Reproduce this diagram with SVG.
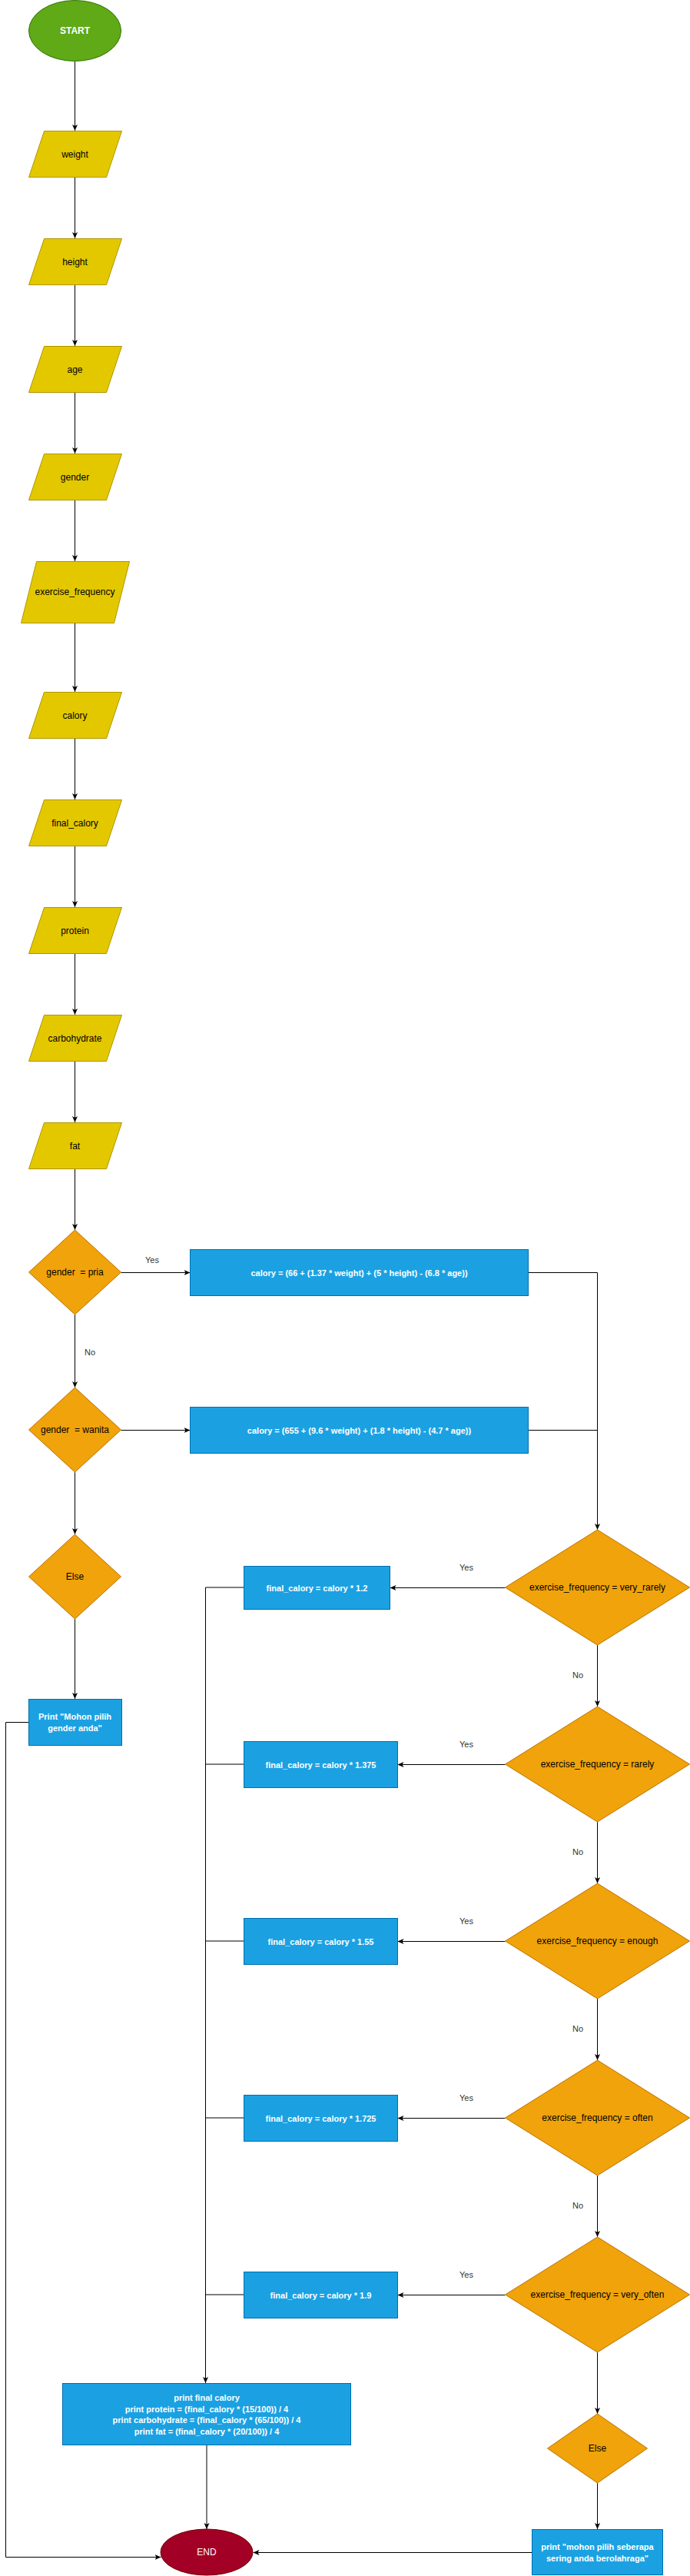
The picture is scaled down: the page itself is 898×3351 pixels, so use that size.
<svg xmlns="http://www.w3.org/2000/svg" width="898" height="3351" viewBox="0 0 898 3351">
<defs>
<marker id="arr" markerUnits="userSpaceOnUse" markerWidth="8" markerHeight="8" viewBox="0 0 8 8" refX="8" refY="4" orient="auto">
<path d="M0,0.5 L8,4 L0,7.5 L2,4 Z" fill="#000"/>
</marker>
<style>
.io{fill:#e3c800;stroke:#b09500}
.dec{fill:#f0a30a;stroke:#bd7000}
.proc{fill:#1ba1e2;stroke:#006eaf}
.t{font-family:"Liberation Sans",Arial,sans-serif;font-size:12px;text-anchor:middle;dominant-baseline:central;fill:#000}
.wb{fill:#fff;font-weight:bold;font-size:11px}
.lbl{fill:#333;font-size:11px}
.edge{fill:none;stroke:#000;stroke-width:1}
.a{marker-end:url(#arr)}
.pre{white-space:pre}
</style>
</defs>
<rect width="898" height="3351" fill="#fff"/>

<g id="connectors">
<path class="edge a" d="M97.5,80 V170"/>
<path class="edge a" d="M97.5,230 V310"/>
<path class="edge a" d="M97.5,370 V450"/>
<path class="edge a" d="M97.5,510 V590"/>
<path class="edge a" d="M97.5,650 V730"/>
<path class="edge a" d="M97.5,810 V900"/>
<path class="edge a" d="M97.5,960 V1040"/>
<path class="edge a" d="M97.5,1100 V1180"/>
<path class="edge a" d="M97.5,1240 V1320"/>
<path class="edge a" d="M97.5,1380 V1460"/>
<path class="edge a" d="M97.5,1520 V1600"/>
<path class="edge a" d="M157.5,1655.5 H247.5"/>
<path class="edge a" d="M97.5,1710 V1805"/>
<path class="edge a" d="M157.5,1860.5 H247.5"/>
<path class="edge a" d="M97.5,1915 V1996"/>
<path class="edge a" d="M97.5,2106 V2210"/>
<path class="edge a" d="M687.5,1655.5 H777.5 V1990"/>
<path class="edge" d="M687.5,1860.5 H777.5"/>
<path class="edge a" d="M657.5,2065.5 H507.5"/>
<path class="edge a" d="M657.5,2295.5 H517.5"/>
<path class="edge a" d="M657.5,2525.5 H517.5"/>
<path class="edge a" d="M657.5,2755.5 H517.5"/>
<path class="edge a" d="M657.5,2985.5 H517.5"/>
<path class="edge a" d="M777.5,2140 V2220"/>
<path class="edge a" d="M777.5,2370 V2450"/>
<path class="edge a" d="M777.5,2600 V2680"/>
<path class="edge a" d="M777.5,2830 V2910"/>
<path class="edge a" d="M777.5,3060 V3140"/>
<path class="edge a" d="M777.5,3230 V3290"/>
<path class="edge" d="M317.5,2065 H267.5"/>
<path class="edge" d="M317.5,2295 H267.5"/>
<path class="edge" d="M317.5,2525 H267.5"/>
<path class="edge" d="M317.5,2755 H267.5"/>
<path class="edge" d="M317.5,2985 H267.5"/>
<path class="edge a" d="M267.5,2065 V3100"/>
<path class="edge a" d="M269,3180 V3290"/>
<path class="edge a" d="M692.5,3320.5 H329.5"/>
<path class="edge a" d="M37.5,2240.5 H7.5 V3326.5 H209.5"/>
<text class="t lbl" x="198" y="1639">Yes</text>
<text class="t lbl" x="117" y="1759">No</text>
<text class="t lbl" x="607" y="2039">Yes</text>
<text class="t lbl" x="607" y="2269">Yes</text>
<text class="t lbl" x="607" y="2499">Yes</text>
<text class="t lbl" x="607" y="2729">Yes</text>
<text class="t lbl" x="607" y="2959">Yes</text>
<text class="t lbl" x="752" y="2179">No</text>
<text class="t lbl" x="752" y="2409">No</text>
<text class="t lbl" x="752" y="2639">No</text>
<text class="t lbl" x="752" y="2869">No</text>
</g>

<g id="start">
<ellipse cx="97.5" cy="40" rx="60" ry="39.5" fill="#60a917" stroke="#2d7600"/>
<text class="t" x="97.5" y="40" fill="#fff" style="fill:#fff;font-weight:bold">START</text>
</g>
<g id="in-weight"><polygon class="io" points="57.5,170.5 158.5,170.5 138.5,230.5 37.5,230.5"/><text class="t" x="97.5" y="200.5">weight</text></g>
<g id="in-height"><polygon class="io" points="57.5,310.5 158.5,310.5 138.5,370.5 37.5,370.5"/><text class="t" x="97.5" y="340.5">height</text></g>
<g id="in-age"><polygon class="io" points="57.5,450.5 158.5,450.5 138.5,510.5 37.5,510.5"/><text class="t" x="97.5" y="480.5">age</text></g>
<g id="in-gender"><polygon class="io" points="57.5,590.5 158.5,590.5 138.5,650.5 37.5,650.5"/><text class="t" x="97.5" y="620.5">gender</text></g>
<g id="in-exercise"><polygon class="io" points="47.5,730.5 168.5,730.5 148.5,810.5 27.5,810.5"/><text class="t" x="97.5" y="770">exercise_frequency</text></g>
<g id="in-calory"><polygon class="io" points="57.5,900.5 158.5,900.5 138.5,960.5 37.5,960.5"/><text class="t" x="97.5" y="930.5">calory</text></g>
<g id="in-final"><polygon class="io" points="57.5,1040.5 158.5,1040.5 138.5,1100.5 37.5,1100.5"/><text class="t" x="97.5" y="1070.5">final_calory</text></g>
<g id="in-protein"><polygon class="io" points="57.5,1180.5 158.5,1180.5 138.5,1240.5 37.5,1240.5"/><text class="t" x="97.5" y="1210.5">protein</text></g>
<g id="in-carb"><polygon class="io" points="57.5,1320.5 158.5,1320.5 138.5,1380.5 37.5,1380.5"/><text class="t" x="97.5" y="1350.5">carbohydrate</text></g>
<g id="in-fat"><polygon class="io" points="57.5,1460.5 158.5,1460.5 138.5,1520.5 37.5,1520.5"/><text class="t" x="97.5" y="1490.5">fat</text></g>

<g id="dec-pria"><polygon class="dec" points="97.5,1600 157.5,1655 97.5,1710 37.5,1655"/><text class="t pre" x="97.5" y="1655">gender  = pria</text></g>
<g id="dec-wanita"><polygon class="dec" points="97.5,1805 157.5,1860 97.5,1915 37.5,1860"/><text class="t pre" x="97.5" y="1860">gender  = wanita</text></g>
<g id="dec-else1"><polygon class="dec" points="97.5,1996 157.5,2051 97.5,2106 37.5,2051"/><text class="t" x="97.5" y="2051">Else</text></g>
<g id="print-gender"><rect class="proc" x="37.5" y="2210.5" width="121" height="60"/>
<text class="t wb" x="97.5" y="2233">Print "Mohon pilih</text><text class="t wb" x="97.5" y="2248">gender anda"</text></g>

<g id="calc-pria"><rect class="proc" x="247.5" y="1625.5" width="440" height="60"/><text class="t wb" x="467.5" y="1655.5">calory = (66 + (1.37 * weight) + (5 * height) - (6.8 * age))</text></g>
<g id="calc-wanita"><rect class="proc" x="247.5" y="1830.5" width="440" height="60"/><text class="t wb" x="467.5" y="1860.5">calory = (655 + (9.6 * weight) + (1.8 * height) - (4.7 * age))</text></g>

<g id="dec-very-rarely"><polygon class="dec" points="777.5,1990 897.5,2065 777.5,2140 657.5,2065"/><text class="t" x="777.5" y="2065">exercise_frequency = very_rarely</text></g>
<g id="dec-rarely"><polygon class="dec" points="777.5,2220 897.5,2295 777.5,2370 657.5,2295"/><text class="t" x="777.5" y="2295">exercise_frequency = rarely</text></g>
<g id="dec-enough"><polygon class="dec" points="777.5,2450 897.5,2525 777.5,2600 657.5,2525"/><text class="t" x="777.5" y="2525">exercise_frequency = enough</text></g>
<g id="dec-often"><polygon class="dec" points="777.5,2680 897.5,2755 777.5,2830 657.5,2755"/><text class="t" x="777.5" y="2755">exercise_frequency = often</text></g>
<g id="dec-very-often"><polygon class="dec" points="777.5,2910 897.5,2985 777.5,3060 657.5,2985"/><text class="t" x="777.5" y="2985">exercise_frequency = very_often</text></g>
<g id="dec-else2"><polygon class="dec" points="777.5,3140 842.5,3185 777.5,3230 712.5,3185"/><text class="t" x="777.5" y="3185">Else</text></g>

<g id="fc-12"><rect class="proc" x="317.5" y="2037.5" width="190" height="56"/><text class="t wb" x="412.5" y="2065.5">final_calory = calory * 1.2</text></g>
<g id="fc-1375"><rect class="proc" x="317.5" y="2265.5" width="200" height="60"/><text class="t wb" x="417.5" y="2295.5">final_calory = calory * 1.375</text></g>
<g id="fc-155"><rect class="proc" x="317.5" y="2495.5" width="200" height="60"/><text class="t wb" x="417.5" y="2525.5">final_calory = calory * 1.55</text></g>
<g id="fc-1725"><rect class="proc" x="317.5" y="2725.5" width="200" height="60"/><text class="t wb" x="417.5" y="2755.5">final_calory = calory * 1.725</text></g>
<g id="fc-19"><rect class="proc" x="317.5" y="2955.5" width="200" height="60"/><text class="t wb" x="417.5" y="2985.5">final_calory = calory * 1.9</text></g>

<g id="print-final"><rect class="proc" x="81.5" y="3100.5" width="375" height="80"/>
<text class="t wb" x="269" y="3119">print final calory</text>
<text class="t wb" x="269" y="3133.5">print protein = (final_calory * (15/100)) / 4</text>
<text class="t wb" x="269" y="3148">print carbohydrate = (final_calory * (65/100)) / 4</text>
<text class="t wb" x="269" y="3162.5">print fat = (final_calory * (20/100)) / 4</text></g>

<g id="print-exercise"><rect class="proc" x="692.5" y="3290.5" width="170" height="59"/>
<text class="t wb" x="777.5" y="3313">print "mohon pilih seberapa</text>
<text class="t wb" x="777.5" y="3327.5">sering anda berolahraga"</text></g>

<g id="end"><ellipse cx="269" cy="3320" rx="60" ry="30" fill="#a20025" stroke="#6f0000"/><text class="t" x="269" y="3320" style="fill:#fff">END</text></g>
</svg>
